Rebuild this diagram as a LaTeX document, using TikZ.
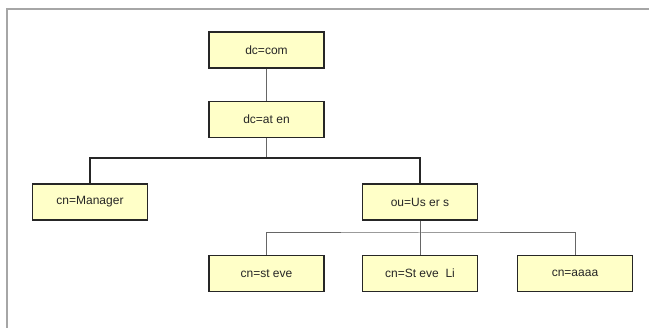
\documentclass[tikz,border=0pt]{standalone}
\usepackage{fontspec}
\setmainfont{Liberation Sans}
\begin{document}
\begin{tikzpicture}[x=1pt,y=-1pt,
  entry/.style={draw=black!85,line width=1.1pt,fill=yellowbox,minimum width=115pt,minimum height=36pt,inner sep=0pt,font=\fontsize{12}{14}\selectfont,text=black!85},
  link/.style={draw=black!60,line width=1pt},
  buslink/.style={draw=black!85,line width=1.4pt}]
\definecolor{yellowbox}{HTML}{FFFFC8}
\useasboundingbox (0,0) rectangle (649,328);
\draw[black!35,line width=2pt] (7,330) -- (7,9) -- (651,9);
\node[entry] (com) at (266.5,50) {dc=com};
\node[entry] (aten) at (266.5,119.5) {dc=at en};
\node[entry] (mgr) at (90,202) {cn=Manager};
\node[entry] (users) at (420,202) {ou=Us er s};
\node[entry] (steve) at (266.5,273.5) {cn=st eve};
\node[entry] (steveli) at (420,273.5) {cn=St eve \ Li};
\node[entry] (aaaa) at (575,273.5) {cn=aaaa};
\coordinate (b1) at (266.5,158);
\coordinate (b2) at (420,233);
\draw[link] (com) -- (aten);
\draw[link] (aten) -- (b1);
\draw[buslink] (mgr.north) |- (b1) -| (users.north);
\draw[link] (users) -- (steveli);
\draw[link] (steve.north) |- (b2) -| (aaaa.north);
\end{tikzpicture}
\end{document}
